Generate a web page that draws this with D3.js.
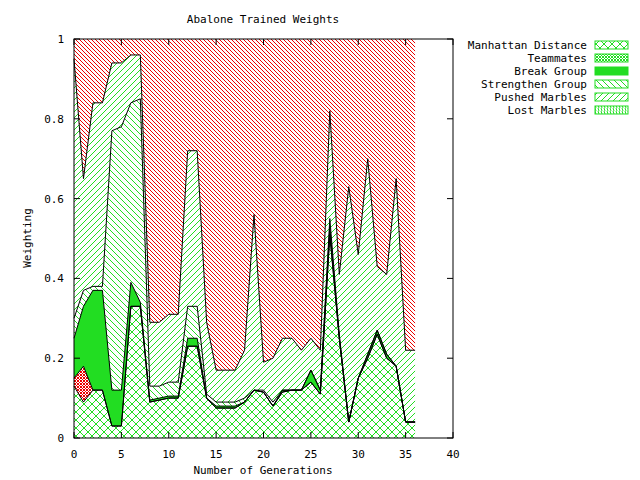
<!DOCTYPE html>
<html><head><meta charset="utf-8">
<script src="https://cdn.jsdelivr.net/npm/d3@7"></script>
<style>body{margin:0;background:#fff}text{font-family:"DejaVu Sans Mono",monospace;font-size:11px}</style>
</head><body><div id="chart"></div>
<script>
const generations = d3.range(0, 37);
const seriesNames = ["Manhattan Distance", "Teammates", "Break Group", "Strengthen Group", "Pushed Marbles", "Lost Marbles"];
const manhattan = [0.13,0.09,0.12,0.12,0.03,0.03,0.33,0.33,0.09,0.095,0.10,0.10,0.23,0.23,0.10,0.075,0.075,0.075,0.09,0.12,0.115,0.08,0.115,0.12,0.12,0.14,0.11,0.51,0.25,0.04,0.15,0.20,0.26,0.20,0.18,0.04,0.04];
const teammates = [0.02,0.09,0,0,0,0,0,0,0,0,0,0,0,0,0,0,0,0,0,0,0,0,0,0,0,0,0,0,0,0,0,0,0,0,0,0,0];
const breakGroup = [0.10,0.15,0.25,0.25,0.09,0.09,0.06,0.01,0.005,0.005,0.005,0.005,0.02,0.02,0,0.005,0.005,0.005,0,0,0,0,0.005,0,0,0.03,0.01,0.02,0,0,0,0.01,0.01,0.01,0,0,0];
const strengthen = [0.05,0.04,0.01,0.01,0.65,0.66,0.45,0.51,0.035,0.03,0.035,0.035,0.08,0.08,0.01,0.01,0.01,0.01,0.01,0,0.005,0.01,0,0,0,0,0,0.02,0.01,0,0,0,0,0,0,0,0];
const pushed = [0.65,0.28,0.46,0.46,0.17,0.16,0.12,0.11,0.16,0.16,0.17,0.17,0.39,0.39,0.18,0.08,0.08,0.08,0.12,0.44,0.07,0.11,0.13,0.13,0.10,0.08,0.10,0.27,0.15,0.59,0.31,0.49,0.16,0.20,0.47,0.18,0.18];
const lost = [0.05,0.35,0.16,0.16,0.06,0.06,0.04,0.04,0.71,0.71,0.69,0.69,0.28,0.28,0.71,0.83,0.83,0.83,0.78,0.44,0.81,0.80,0.75,0.75,0.78,0.75,0.78,0.18,0.59,0.37,0.54,0.30,0.57,0.59,0.35,0.78,0.78];
const xTicks = [0,5,10,15,20,25,30,35,40];
const yTicks = [0,0.2,0.4,0.6,0.8,1];

const width = 640, height = 480;
const margin = {top: 39, left: 74, right: 187, bottom: 42};
const svg = d3.select("#chart").append("svg").attr("width", width).attr("height", height);

/* PATTERNS */
const defs = svg.append("defs");
function hatch(id, color, size, paths) {
    const p = defs.append("pattern").attr("id", id).attr("patternUnits", "userSpaceOnUse")
        .attr("width", size).attr("height", size);
    paths.forEach(d => p.append("path").attr("d", d).attr("stroke", color).attr("stroke-width", 1).attr("fill", "none"));
}
const G = "#22dd22", R = "#ee0000";
hatch("cross", G, 8, ["M0,0L8,8", "M8,0L0,8"]);
hatch("fine", G, 3, ["M0,0L3,3", "M3,0L0,3"]);
hatch("fineR", R, 3, ["M0,0L3,3", "M3,0L0,3"]);
hatch("back", G, 6, ["M0,0L6,6", "M-3,3L3,9", "M3,-3L9,3"]);
hatch("fwd", G, 6, ["M0,6L6,0", "M-3,3L3,-3", "M3,9L9,3"]);
hatch("backR", R, 4, ["M0,0L4,4", "M-2,2L2,6", "M2,-2L6,2"]);
hatch("vert", G, 3, ["M1,0L2,3"]);

const plotFill = ["url(#cross)", "url(#fineR)", G, "url(#back)", "url(#fwd)", "url(#backR)"];
const legendFill = ["url(#cross)", "url(#fine)", G, "url(#back)", "url(#fwd)", "url(#vert)"];

/* STACK */
const cols = [manhattan, teammates, breakGroup, strengthen, pushed, lost];
const table = generations.map((g, i) => {
    const row = {g: g};
    seriesNames.forEach((n, k) => row[n] = cols[k][i]);
    return row;
});
const stacked = d3.stack().keys(seriesNames)(table);

const xScale = d3.scaleLinear().domain([0, 40]).range([margin.left, width - margin.right]);
const yScale = d3.scaleLinear().domain([0, 1]).range([height - margin.bottom, margin.top]);

const area = d3.area().x(d => xScale(d.data.g)).y0(d => yScale(d[0])).y1(d => yScale(d[1]));
const line = d3.line().x(d => xScale(d.data.g)).y(d => yScale(d[1]));

svg.selectAll("path.band").data(stacked).enter().append("path")
    .attr("class", "band").attr("d", area).attr("fill", (d, i) => plotFill[i]);
svg.selectAll("path.edge").data(stacked.slice(0, 5)).enter().append("path")
    .attr("class", "edge").attr("d", line).attr("fill", "none").attr("stroke", "#000").attr("stroke-width", 1);

/* AXES */
svg.append("rect").attr("x", xScale(0)).attr("y", yScale(1))
    .attr("width", xScale(40) - xScale(0)).attr("height", yScale(0) - yScale(1))
    .attr("fill", "none").attr("stroke", "#000");
xTicks.forEach(t => {
    svg.append("line").attr("x1", xScale(t)).attr("x2", xScale(t)).attr("y1", yScale(0)).attr("y2", yScale(0) - 6).attr("stroke", "#000");
    svg.append("line").attr("x1", xScale(t)).attr("x2", xScale(t)).attr("y1", yScale(1)).attr("y2", yScale(1) + 6).attr("stroke", "#000");
    svg.append("text").attr("x", xScale(t)).attr("y", yScale(0) + 20).attr("text-anchor", "middle").text(t);
});
yTicks.forEach(t => {
    svg.append("line").attr("x1", xScale(0)).attr("x2", xScale(0) + 6).attr("y1", yScale(t)).attr("y2", yScale(t)).attr("stroke", "#000");
    svg.append("line").attr("x1", xScale(40)).attr("x2", xScale(40) - 6).attr("y1", yScale(t)).attr("y2", yScale(t)).attr("stroke", "#000");
    svg.append("text").attr("x", xScale(0) - 10).attr("y", yScale(t) + 4).attr("text-anchor", "end").text(t);
});

svg.append("text").attr("x", 263).attr("y", 23).attr("text-anchor", "middle").text("Abalone Trained Weights");
svg.append("text").attr("x", 263).attr("y", 474).attr("text-anchor", "middle").text("Number of Generations");
svg.append("text").attr("transform", "rotate(-90)").attr("x", -238).attr("y", 31).attr("text-anchor", "middle").text("Weighting");

/* LEGEND */
seriesNames.forEach((n, i) => {
    const y = 45 + i * 13;
    svg.append("text").attr("x", 587).attr("y", y + 4).attr("text-anchor", "end").text(n);
    svg.append("rect").attr("x", 595).attr("y", y - 4).attr("width", 33).attr("height", 8)
        .attr("fill", legendFill[i]).attr("stroke", G);
});
</script></body></html>
